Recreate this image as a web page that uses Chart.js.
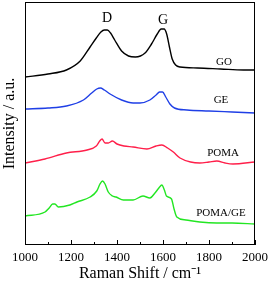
<!DOCTYPE html>
<html>
<head>
<meta charset="utf-8">
<script src="https://cdn.jsdelivr.net/npm/chart.js@4"></script>
<style>
  html, body { margin: 0; padding: 0; background: #fff; }
  #wrap { width: 270px; height: 283px; }
</style>
</head>
<body>
<div id="wrap"><canvas id="c" width="270" height="283"></canvas></div>
<script>
// spectra, offset for display (arbitrary units)
const goX = [1000, 1100, 1180, 1240, 1283, 1310, 1330, 1345, 1358, 1372, 1390, 1420, 1450, 1480, 1522, 1550, 1575, 1592, 1605, 1616, 1628, 1640, 1655, 1674, 1750, 1850, 1950, 2000];
const goY = [166, 169, 173, 182, 196, 205, 211, 213, 213, 210, 203, 192, 187, 186, 190, 199, 209, 214, 214, 209, 196, 184, 178, 176, 175, 174, 173, 173];

const geX = [1000, 1100, 1180, 1254, 1290, 1312, 1328, 1345, 1370, 1420, 1470, 1500, 1543, 1570, 1585, 1598, 1612, 1630, 1650, 1704, 1800, 1900, 2000];
const geY = [134, 135, 137, 143, 150, 154, 155, 153, 149, 143, 140, 140, 143, 148, 151, 151, 146, 139, 135, 133, 132, 131, 130];

const pomaX = [1000, 1087, 1180, 1270, 1310, 1325, 1335, 1348, 1362, 1380, 1400, 1430, 1470, 1530, 1570, 1595, 1620, 1645, 1674, 1720, 1760, 1800, 1834, 1870, 1904, 2000];
const pomaY = [80, 84, 90, 93, 97, 102, 104, 100, 100, 102, 99, 97, 96, 94, 97, 98, 95, 91, 85, 81, 80, 81, 82, 80, 79, 81];

const pgX = [1000, 1087, 1105, 1120, 1130, 1145, 1195, 1226, 1283, 1312, 1326, 1337, 1348, 1362, 1380, 1396, 1428, 1470, 1513, 1543, 1565, 1582, 1595, 1606, 1615, 1637, 1648, 1660, 1700, 1760, 1834, 1900, 2000];
const pgY = [27, 31, 35, 39, 39, 36, 38, 41, 46, 52, 59, 62, 59, 51, 47, 46, 43, 43, 47, 45, 50, 55, 58, 53, 47, 44, 34, 26, 23, 21, 20, 20, 19];

// text labels: [text, x value, y value]
const peakLabels = [["D", 1357, 225], ["G", 1600, 223]];
const curveLabels = [["GO", 1865, 181], ["GE", 1852, 143], ["POMA", 1861, 90], ["POMA/GE", 1852, 30]];

function pts(xs, ys) { return xs.map((x, i) => ({ x: x, y: ys[i] })); }

const FONT = "'Liberation Serif', 'Times New Roman', serif";

const frame = {
  id: 'frame',
  afterDatasetsDraw(chart) {
    const ctx = chart.ctx, a = chart.chartArea, xs = chart.scales.x;
    ctx.save();
    ctx.strokeStyle = '#000';
    ctx.lineWidth = 1;
    ctx.strokeRect(a.left + 0.5, a.top + 0.5, a.right - a.left - 1, a.bottom - a.top - 1);
    for (let v = 1000; v <= 2000; v += 100) {
      const px = Math.round(xs.getPixelForValue(v)) + 0.5;
      const len = v % 200 === 0 ? 5 : 3;
      ctx.beginPath();
      ctx.moveTo(px, a.bottom);
      ctx.lineTo(px, a.bottom - len);
      ctx.stroke();
    }
    ctx.fillStyle = '#000';
    ctx.textAlign = 'center';
    ctx.textBaseline = 'middle';
    ctx.font = '14px ' + FONT;
    peakLabels.forEach(l => ctx.fillText(l[0], xs.getPixelForValue(l[1]), chart.scales.y.getPixelForValue(l[2])));
    ctx.font = '11px ' + FONT;
    curveLabels.forEach(l => ctx.fillText(l[0], xs.getPixelForValue(l[1]), chart.scales.y.getPixelForValue(l[2])));
    ctx.restore();
  }
};

function ds(data, color) {
  return { data: data, borderColor: color, borderWidth: 1.4, pointRadius: 0, cubicInterpolationMode: 'monotone', fill: false };
}

new Chart(document.getElementById('c'), {
  type: 'line',
  data: {
    datasets: [
      ds(pts(goX, goY), '#000000'),
      ds(pts(geX, geY), '#1f3fe6'),
      ds(pts(pomaX, pomaY), '#ff1f4a'),
      ds(pts(pgX, pgY), '#22e622')
    ]
  },
  options: {
    responsive: false,
    animation: false,
    layout: { padding: { left: 0, right: 15, top: 2, bottom: 0 } },
    plugins: { legend: { display: false }, tooltip: { enabled: false } },
    scales: {
      x: {
        type: 'linear', min: 1000, max: 2000,
        grid: { display: false, drawTicks: false },
        border: { display: false },
        ticks: {
          stepSize: 200, color: '#000', padding: 5, maxRotation: 0,
          font: { family: FONT, size: 13 },
          callback: v => String(v)
        },
        title: {
          display: true,
          text: 'Raman Shift / cm\u207B\u00B9',
          color: '#000',
          font: { family: FONT, size: 16 },
          padding: { top: 0, bottom: 0 }
        },
        afterFit(s) { s.height = 38; s.paddingLeft = 0; s.paddingRight = 0; }
      },
      y: {
        min: -2, max: 241,
        grid: { display: false, drawTicks: false },
        border: { display: false },
        ticks: { display: false },
        title: {
          display: true,
          text: 'Intensity / a.u.',
          color: '#000',
          font: { family: FONT, size: 16 },
          padding: 0
        },
        afterFit(s) { s.width = 25; }
      }
    }
  },
  plugins: [frame]
});
</script>
</body>
</html>
